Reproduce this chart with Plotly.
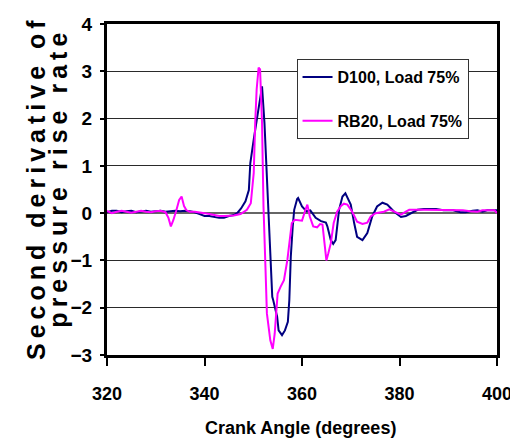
import plotly.graph_objects as go

# ---- data ----
d100_x = [320, 321, 322, 323, 324, 325, 326, 327, 328, 329, 330, 331, 332, 333, 334, 335,
          336, 337, 338, 339, 340, 341, 342, 343, 344, 345, 346, 346.7, 347.5, 348.4, 349.1,
          349.4, 350.1, 351.1, 351.8, 352.3, 352.8, 353.2, 353.6, 353.9, 354.1, 354.9, 355.2,
          355.9, 356.5, 357.1, 357.4, 357.7, 358.1, 358.4, 359.0, 359.2, 360.0, 360.9, 361.7,
          362.8, 363.9, 364.9, 365.2, 365.9, 366.4, 366.9, 367.6, 368.3, 368.9, 370.0, 370.7,
          371.3, 372.4, 373.4, 374.4, 375.4, 376.5, 377.5, 378.9, 380.3, 381.3, 382.3, 383.7,
          385, 387.5, 389, 391, 392.5, 393.5, 395, 396, 397, 398, 400]
d100_y = [0.02, 0.05, 0.05, 0.02, 0.04, 0.05, 0.02, 0.04, 0.05, 0.03, 0.04, 0.05, 0.03, 0.04,
          0.05, 0.04, 0.05, 0.04, 0.02, -0.02, -0.06, -0.06, -0.08, -0.1, -0.1, -0.06, -0.04,
          0.0, 0.1, 0.25, 0.49, 1.06, 1.56, 2.19, 2.68, 1.91, 0.71, 0.0, -0.92, -1.77, -1.84,
          -2.19, -2.48, -2.58, -2.48, -2.30, -1.84, -0.92, -0.28, 0.07, 0.30, 0.32, 0.14, 0.04,
          0.06, -0.10, -0.17, -0.20, -0.28, -0.57, -0.65, -0.57, 0.07, 0.35, 0.42, 0.18, -0.21,
          -0.50, -0.57, -0.42, -0.07, 0.14, 0.22, 0.18, 0.03, -0.08, -0.06, 0.0, 0.07, 0.09,
          0.09, 0.06, 0.06, 0.02, 0.02, 0.05, 0.06, 0.03, 0.06, 0.06]

rb20_x = [320, 320.5, 321, 322, 323, 324, 325, 326, 327, 328, 329, 330, 331, 332, 332.6,
          333.1, 333.6, 334.2, 334.8, 335.3, 335.8, 336.3, 337, 338, 339, 340, 341, 342, 343,
          344, 345, 346, 347.4, 348.7, 349.5, 349.9, 350.1, 350.4, 350.7, 351.1, 351.4, 351.8,
          352.1, 352.5, 352.8, 353.5, 354.0, 354.4, 354.8, 355.0, 355.6, 356.3, 357.0, 357.6,
          357.9, 358.5, 359.3, 360.0, 360.7, 361.1, 361.6, 362.3, 363.1, 363.7, 364.2, 364.6,
          365.0, 365.4, 365.9, 366.5, 367.2, 368.0, 368.6, 369.3, 370.3, 371.3, 372.4, 373.4,
          374.1, 375.1, 376.8, 377.9, 378.9, 380.3, 381.3, 382, 385, 388, 391, 393, 394.5,
          396, 397, 399.5, 400]
rb20_y = [0.05, 0.02, 0.0, 0.03, 0.05, 0.03, 0.01, 0.03, 0.05, 0.03, 0.02, 0.04, 0.05, 0.02,
          -0.10, -0.28, -0.15, 0.05, 0.28, 0.35, 0.15, 0.06, 0.03, 0.03, 0.02, 0.0, -0.02,
          -0.04, -0.06, -0.06, -0.06, -0.05, -0.02, 0.07, 0.21, 0.55, 0.85, 1.91, 2.62, 3.08,
          3.04, 1.91, 0.14, -1.13, -2.12, -2.69, -2.87, -2.55, -1.98, -1.70, -1.56, -1.42,
          -0.99, -0.50, -0.21, -0.14, -0.15, -0.16, 0.07, 0.18, -0.07, -0.28, -0.30, -0.23,
          -0.24, -0.57, -1.00, -0.85, -0.64, -0.21, 0.03, 0.15, 0.20, 0.18, 0.03, -0.18, -0.23,
          -0.20, -0.07, 0.0, 0.03, 0.08, 0.03, -0.03, 0.03, 0.07, 0.07, 0.07, 0.07, 0.06, 0.04,
          0.03, 0.06, 0.06, 0.0]

series_names = ["D100, Load 75%", "RB20, Load 75%"]
x_ticks = [320, 340, 360, 380, 400]
y_ticks = [-3, -2, -1, 0, 1, 2, 3, 4]
x_title = "Crank Angle (degrees)"
y_title_lines = ["Second derivative of", "pressure rise rate"]

FONT = "Liberation Sans, Arial, sans-serif"

fig = go.Figure()
fig.add_trace(go.Scatter(x=d100_x, y=d100_y, mode="lines", name=series_names[0],
                         line=dict(color="#000080", width=2), legendgroup="a"))
fig.add_trace(go.Scatter(x=rb20_x, y=rb20_y, mode="lines", name=series_names[1],
                         line=dict(color="#FF00FF", width=2), legendgroup="b"))

def spaced(s):
    return "\u2009".join(list(s))

fig.update_layout(
    width=510, height=441,
    margin=dict(l=107, r=13, t=24, b=86, autoexpand=False),
    paper_bgcolor="white", plot_bgcolor="white",
    font=dict(family=FONT, size=18, color="black", weight="bold"),
    showlegend=True,
    legend=dict(x=0.486, y=0.894, xanchor="left", yanchor="top",
                bgcolor="white", bordercolor="#333333", borderwidth=1,
                traceorder="grouped", tracegroupgap=20,
                font=dict(family=FONT, size=16, color="black", weight="bold")),
    xaxis=dict(range=[320, 400], tickvals=x_ticks, ticks="outside", ticklen=8,
               tickwidth=1.5, tickcolor="black", showgrid=False, zeroline=False,
               showline=True, linewidth=3, linecolor="black", mirror=True,
               automargin=False,
               ticklabelstandoff=12, ticklabeloverflow="allow",
               tickfont=dict(family=FONT, size=18, color="black", weight="bold")),
    yaxis=dict(range=[-3, 4], tickvals=y_ticks, ticks="outside", ticklen=4,
               tickwidth=1.5, tickcolor="black", showgrid=True, gridcolor="#2a2a2a",
               gridwidth=1, zeroline=True, zerolinecolor="#666666", zerolinewidth=1.5,
               showline=True, linewidth=3, linecolor="black", mirror=True,
               automargin=False,
               ticklabelstandoff=4, ticklabeloverflow="allow",
               tickfont=dict(family=FONT, size=19, color="black", weight="bold")),
    annotations=[
        dict(text=x_title, xref="paper", yref="paper", x=0.497, y=-0.2205,
             xanchor="center", yanchor="middle", showarrow=False,
             font=dict(family=FONT, size=18, color="black", weight="bold")),
        dict(text=spaced(y_title_lines[0]), xref="paper", yref="paper", x=-0.182,
             y=0.4985, xanchor="center", yanchor="middle", textangle=-90, showarrow=False,
             font=dict(family=FONT, size=25, color="black", weight="bold")),
        dict(text=spaced(y_title_lines[1]), xref="paper", yref="paper", x=-0.128,
             y=0.527, xanchor="center", yanchor="middle", textangle=-90, showarrow=False,
             font=dict(family=FONT, size=25, color="black", weight="bold")),
    ],
)

fig.write_html("out.html")
